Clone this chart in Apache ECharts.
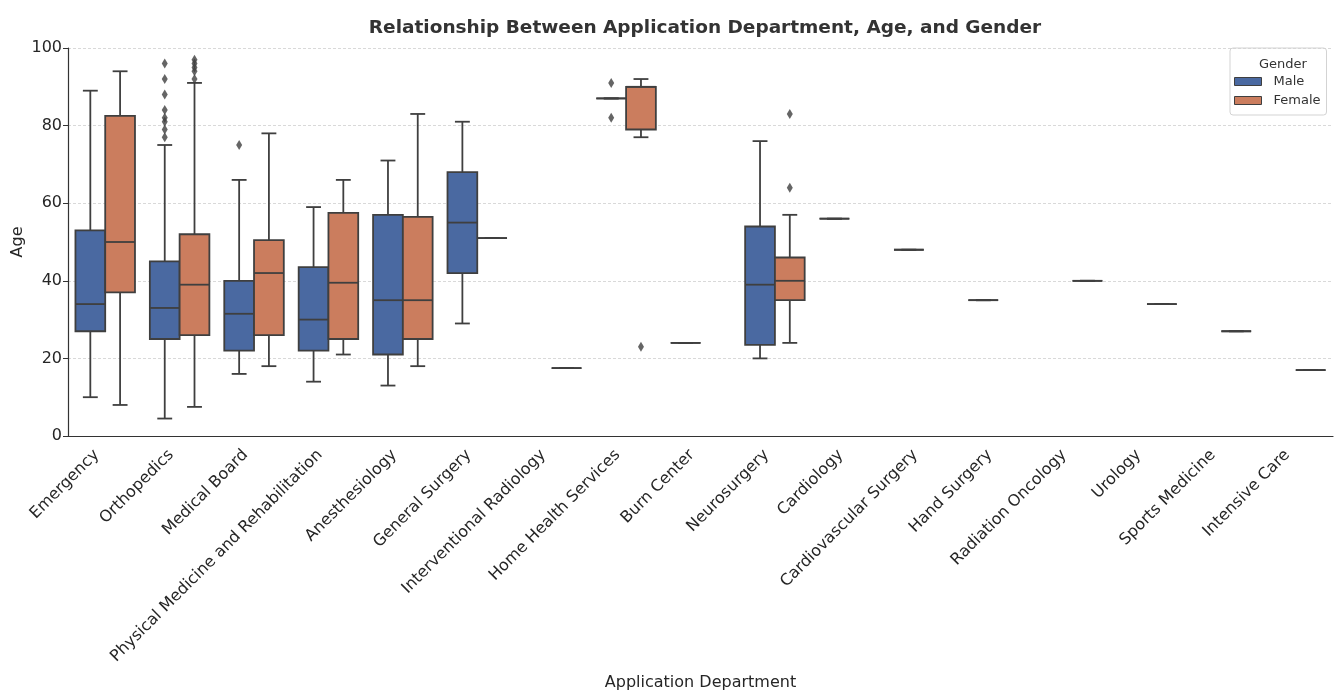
<!DOCTYPE html>
<html>
<head>
<meta charset="utf-8">
<script src="https://cdn.jsdelivr.net/npm/echarts@6/dist/echarts.min.js"></script>
<style>
  html, body { margin: 0; padding: 0; background: #fff; }
  #chart { width: 1338px; height: 690px; }
</style>
</head>
<body>
<div id="chart"></div>
<script>
var departments = ['Emergency', 'Orthopedics', 'Medical Board', 'Physical Medicine and Rehabilitation',
  'Anesthesiology', 'General Surgery', 'Interventional Radiology', 'Home Health Services', 'Burn Center',
  'Neurosurgery', 'Cardiology', 'Cardiovascular Surgery', 'Hand Surgery', 'Radiation Oncology',
  'Urology', 'Sports Medicine', 'Intensive Care'];

// [lower whisker, Q1, median, Q3, upper whisker], null = no data
var maleStats = [
  [10, 27, 34, 53, 89],
  [4.5, 25, 33, 45, 75],
  [16, 22, 31.5, 40, 66],
  [14, 22, 30, 43.5, 59],
  [13, 21, 35, 57, 71],
  [29, 42, 55, 68, 81],
  null,
  [87, 87, 87, 87, 87],
  [24, 24, 24, 24, 24],
  [20, 23.5, 39, 54, 76],
  [56, 56, 56, 56, 56],
  [48, 48, 48, 48, 48],
  [35, 35, 35, 35, 35],
  null,
  null,
  null,
  null
];
var femaleStats = [
  [8, 37, 50, 82.5, 94],
  [7.5, 26, 39, 52, 91],
  [18, 26, 42, 50.5, 78],
  [21, 25, 39.5, 57.5, 66],
  [18, 25, 35, 56.5, 83],
  [51, 51, 51, 51, 51],
  [17.5, 17.5, 17.5, 17.5, 17.5],
  [77, 79, 90, 90, 92],
  null,
  [24, 35, 40, 46, 57],
  null,
  null,
  null,
  [40, 40, 40, 40, 40],
  [34, 34, 34, 34, 34],
  [27, 27, 27, 27, 27],
  [17, 17, 17, 17, 17]
];
// outliers: [department index, age]
var maleOutliers = [
  [1, 96], [1, 92], [1, 88], [1, 84], [1, 82], [1, 81], [1, 79], [1, 77],
  [2, 75],
  [7, 91], [7, 82]
];
var femaleOutliers = [
  [1, 97], [1, 96], [1, 95], [1, 94], [1, 92],
  [7, 23],
  [9, 83], [9, 64]
];

var maleColor = '#4a69a1';
var femaleColor = '#cb7d5e';
var edgeColor = '#3f3f3f';
var shift = 0.2;

function toBoxData(stats) {
  var out = [];
  stats.forEach(function (s, i) {
    if (s) out.push([i].concat(s));
  });
  return out;
}

function toScatterData(list, offset) {
  return list.map(function (p) { return [p[0] + offset, p[1]]; });
}

function boxRenderer(offset) {
  return function (params, api) {
    var i = api.value(0);
    var band = api.size([1, 0])[0];
    var w = band * 0.4;
    var cx = api.coord([i, 0])[0] + offset * band;
    var yLo = api.coord([i, api.value(1)])[1];
    var yQ1 = api.coord([i, api.value(2)])[1];
    var yMed = api.coord([i, api.value(3)])[1];
    var yQ3 = api.coord([i, api.value(4)])[1];
    var yHi = api.coord([i, api.value(5)])[1];
    var ls = { stroke: edgeColor, lineWidth: 1.8, fill: null };
    return {
      type: 'group',
      children: [
        { type: 'line', shape: { x1: cx, y1: yQ3, x2: cx, y2: yHi }, style: ls },
        { type: 'line', shape: { x1: cx, y1: yQ1, x2: cx, y2: yLo }, style: ls },
        { type: 'line', shape: { x1: cx - w / 4, y1: yHi, x2: cx + w / 4, y2: yHi }, style: ls },
        { type: 'line', shape: { x1: cx - w / 4, y1: yLo, x2: cx + w / 4, y2: yLo }, style: ls },
        { type: 'rect', shape: { x: cx - w / 2, y: yQ3, width: w, height: yQ1 - yQ3 },
          style: { fill: api.visual('color'), stroke: edgeColor, lineWidth: 1.8 } },
        { type: 'line', shape: { x1: cx - w / 2, y1: yMed, x2: cx + w / 2, y2: yMed }, style: ls }
      ]
    };
  };
}

var textColor = '#262626';
var chart = echarts.init(document.getElementById('chart'));
chart.setOption({
  animation: false,
  backgroundColor: '#fff',
  textStyle: { fontFamily: 'DejaVu Sans' },
  title: [{
    text: 'Relationship Between Application Department, Age, and Gender',
    left: 700, top: 14, textAlign: 'center',
    textStyle: { fontSize: 18.5, fontWeight: 'bold', color: '#333', fontFamily: 'DejaVu Sans' }
  }, {
    text: 'Gender',
    left: 1278, top: 53, textAlign: 'center',
    textStyle: { fontSize: 13, fontWeight: 'normal', color: '#333', fontFamily: 'DejaVu Sans' }
  }],
  legend: {
    data: ['Male', 'Female'],
    orient: 'vertical',
    left: 1230, top: 48,
    padding: [27, 6, 8, 4],
    itemGap: 6,
    itemWidth: 27, itemHeight: 8,
    icon: 'rect',
    borderColor: '#d3d3d3', borderWidth: 1, borderRadius: 3,
    itemStyle: { borderColor: edgeColor, borderWidth: 1 },
    textStyle: { fontSize: 13, color: '#333', padding: [0, 0, 0, 7], fontFamily: 'DejaVu Sans' }
  },
  grid: { left: 68, right: 5, top: 48, bottom: 254, outerBoundsMode: 'none' },
  xAxis: [{
    type: 'category',
    data: departments,
    boundaryGap: true,
    name: 'Application Department',
    nameLocation: 'middle',
    nameGap: 239,
    nameTextStyle: { fontSize: 16, color: textColor },
    axisLine: { lineStyle: { color: '#333', width: 1.2 } },
    axisTick: { alignWithLabel: true, length: 5, lineStyle: { color: '#333' } },
    axisLabel: { rotate: 45, interval: 0, fontSize: 16, color: textColor, margin: 8, padding: [0, 12, 0, 0] },
    splitLine: { show: false }
  }, {
    type: 'value',
    min: -0.5, max: 16.5,
    show: false
  }],
  yAxis: {
    type: 'value',
    min: 0, max: 100, interval: 20,
    name: 'Age',
    nameLocation: 'middle',
    nameGap: 42,
    nameMoveOverlap: false,
    nameTextStyle: { fontSize: 16, color: textColor },
    axisLine: { show: true, onZero: false, lineStyle: { color: '#333', width: 1.2 } },
    axisTick: { show: true, length: 5, lineStyle: { color: '#333' } },
    axisLabel: { fontSize: 16, color: textColor, margin: 6 },
    splitLine: { show: true, lineStyle: { color: '#cfcfcf', width: 0.8, type: [3, 2] } }
  },
  series: [{
    name: 'Male',
    type: 'custom',
    renderItem: boxRenderer(-shift),
    itemStyle: { color: maleColor },
    encode: { x: 0, y: [1, 2, 3, 4, 5] },
    data: toBoxData(maleStats),
    z: 3
  }, {
    name: 'Female',
    type: 'custom',
    renderItem: boxRenderer(shift),
    itemStyle: { color: femaleColor },
    encode: { x: 0, y: [1, 2, 3, 4, 5] },
    data: toBoxData(femaleStats),
    z: 3
  }, {
    name: 'Male outliers',
    type: 'scatter',
    xAxisIndex: 1,
    symbol: 'diamond',
    symbolSize: [6, 10],
    itemStyle: { color: edgeColor },
    data: toScatterData(maleOutliers, -shift),
    z: 4
  }, {
    name: 'Female outliers',
    type: 'scatter',
    xAxisIndex: 1,
    symbol: 'diamond',
    symbolSize: [6, 10],
    itemStyle: { color: edgeColor },
    data: toScatterData(femaleOutliers, shift),
    z: 4
  }]
});
</script>
</body>
</html>
